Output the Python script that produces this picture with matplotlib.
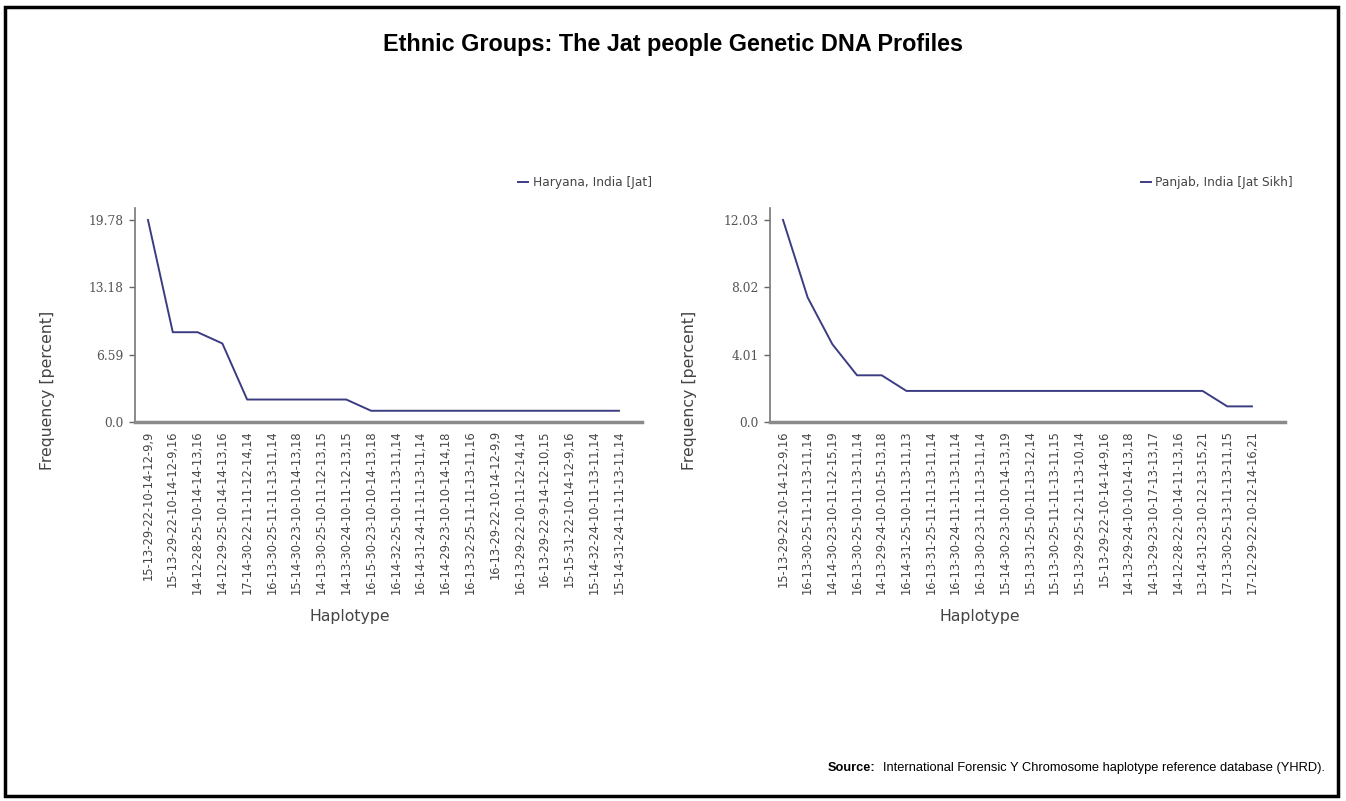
import matplotlib.pyplot as plt
from matplotlib.patches import Rectangle

# Haryana, India [Jat]
haryana_labels = [
    '15-13-29-22-10-14-12-9,9', '15-13-29-22-10-14-12-9,16', '14-12-28-25-10-14-14-13,16',
    '14-12-29-25-10-14-14-13,16', '17-14-30-22-11-11-12-14,14', '16-13-30-25-11-11-13-11,14',
    '15-14-30-23-10-10-14-13,18', '14-13-30-25-10-11-12-13,15', '14-13-30-24-10-11-12-13,15',
    '16-15-30-23-10-10-14-13,18', '16-14-32-25-10-11-13-11,14', '16-14-31-24-11-11-13-11,14',
    '16-14-29-23-10-10-14-14,18', '16-13-32-25-11-11-13-11,16', '16-13-29-22-10-14-12-9,9',
    '16-13-29-22-10-11-12-14,14', '16-13-29-22-9-14-12-10,15', '15-15-31-22-10-14-12-9,16',
    '15-14-32-24-10-11-13-11,14', '15-14-31-24-11-11-13-11,14',
]
haryana_freq = [19.78, 8.79, 8.79, 7.69, 2.20, 2.20, 2.20, 2.20, 2.20, 1.10,
                1.10, 1.10, 1.10, 1.10, 1.10, 1.10, 1.10, 1.10, 1.10, 1.10]
haryana_ticks = [0.0, 6.59, 13.18, 19.78]

# Panjab, India [Jat Sikh]
panjab_labels = [
    '15-13-29-22-10-14-12-9,16', '16-13-30-25-11-11-13-11,14', '14-14-30-23-10-11-12-15,19',
    '16-13-30-25-10-11-13-11,14', '14-13-29-24-10-10-15-13,18', '16-14-31-25-10-11-13-11,13',
    '16-13-31-25-11-11-13-11,14', '16-13-30-24-11-11-13-11,14', '16-13-30-23-11-11-13-11,14',
    '15-14-30-23-10-10-14-13,19', '15-13-31-25-10-11-13-12,14', '15-13-30-25-11-11-13-11,15',
    '15-13-29-25-12-11-13-10,14', '15-13-29-22-10-14-14-9,16', '14-13-29-24-10-10-14-13,18',
    '14-13-29-23-10-17-13-13,17', '14-12-28-22-10-14-11-13,16', '13-14-31-23-10-12-13-15,21',
    '17-13-30-25-13-11-13-11,15', '17-12-29-22-10-12-14-16,21',
]
panjab_freq = [12.03, 7.41, 4.63, 2.78, 2.78, 1.85, 1.85, 1.85, 1.85, 1.85,
               1.85, 1.85, 1.85, 1.85, 1.85, 1.85, 1.85, 1.85, 0.93, 0.93]
panjab_ticks = [0.0, 4.01, 8.02, 12.03]

W, H = 1346, 801
fig = plt.figure(figsize=(W / 100, H / 100), dpi=100)

line_col = '#3c3c82'


def px_axes(x0, x1, ytop, ybot):
    return fig.add_axes([x0 / W, 1 - ybot / H, (x1 - x0) / W, (ybot - ytop) / H])


def draw(ax, labels, freq, ticks, name, xlim, ymax, leg_x):
    x = list(range(len(freq)))
    ax.plot(x, freq, color=line_col, lw=1.4, label=name)
    ax.set_xlim(*xlim)
    ax.set_ylim(0, ymax)
    ax.set_xticks(x)
    ax.set_xticklabels(labels, rotation=90, fontsize=8.3, color='#444444',
                       family='DejaVu Sans')
    ax.set_yticks(ticks)
    ax.set_yticklabels([str(t) for t in ticks], fontsize=8.8, color='#555555',
                       family='DejaVu Serif')
    ax.tick_params(axis='x', length=0, pad=6)
    ax.tick_params(axis='y', length=4, width=1, color='#666666', pad=4)
    for s in ['top', 'right']:
        ax.spines[s].set_visible(False)
    ax.spines['left'].set_color('#777777')
    ax.spines['left'].set_linewidth(1.2)
    ax.spines['bottom'].set_color('#8a8a8a')
    ax.spines['bottom'].set_linewidth(2.5)
    leg = ax.legend(loc='center right', bbox_to_anchor=(leg_x, 1.117), frameon=False,
                    handlelength=0.8, handletextpad=0.4, borderpad=0, borderaxespad=0,
                    prop={'family': 'DejaVu Sans', 'size': 8.8})
    for t in leg.get_texts():
        t.set_color('#444444')


ax1 = px_axes(135, 642, 208, 422)
draw(ax1, haryana_labels, haryana_freq, haryana_ticks, 'Haryana, India [Jat]',
     (-0.524, 19.93), 20.95, 1.02)

ax2 = px_axes(770, 1285, 208, 422)
draw(ax2, panjab_labels, panjab_freq, panjab_ticks, 'Panjab, India [Jat Sikh]',
     (-0.527, 20.34), 12.74, 1.016)

fig.text(673 / W, 1 - 45 / H, 'Ethnic Groups: The Jat people Genetic DNA Profiles',
         ha='center', va='center', fontsize=16.8, fontweight='bold', family='Liberation Sans')

for xc in (48, 690):
    fig.text(xc / W, 1 - 390 / H, 'Frequency [percent]', rotation=90, ha='center',
             va='center', fontsize=11.3, color='#444444', family='DejaVu Sans')
for xc in (350, 980):
    fig.text(xc / W, 1 - 616 / H, 'Haplotype', ha='center', va='center',
             fontsize=11.3, color='#444444', family='DejaVu Sans')

fig.text(828 / W, 1 - 768 / H, 'Source:', ha='left', va='center', fontsize=9.2,
         fontweight='bold', family='Liberation Sans')
fig.text(1325 / W, 1 - 768 / H,
         'International Forensic Y Chromosome haplotype reference database (YHRD).',
         ha='right', va='center', fontsize=9.3, family='Liberation Sans')

fig.patches.append(Rectangle((5 / W, 1 - 796 / H), 1333 / W, 789 / H, fill=False,
                             edgecolor='black', lw=2.5, transform=fig.transFigure))

fig.savefig('out.png', dpi=100)
